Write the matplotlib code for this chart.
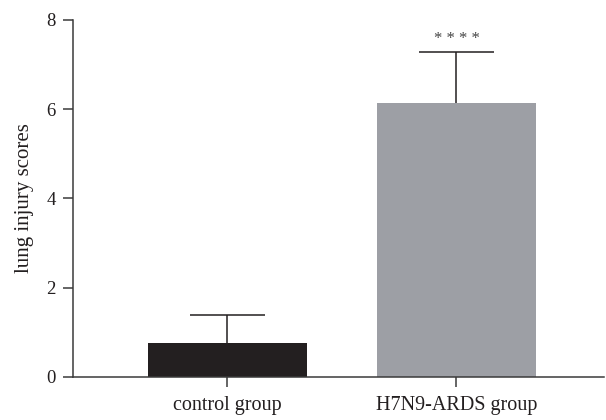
import matplotlib
matplotlib.use("Agg")
import matplotlib.pyplot as plt

groups = ["control group", "H7N9-ARDS group"]
means = [0.77, 6.15]
sd_upper = [0.61, 1.14]
bar_colors = ["#231f20", "#9d9fa5"]
y_ticks = [0, 2, 4, 6, 8]
significance = "* * * *"

plt.rcParams["font.family"] = ["Liberation Serif", "DejaVu Serif"]

fig = plt.figure(figsize=(6.06, 4.2), dpi=100)
ax = fig.add_axes([0.1205, 0.1024, 0.8762, 0.8500])

x = list(range(len(groups)))
ax.bar(x, means, width=0.694, color=bar_colors, zorder=2)

# one-sided (upper) error bars with a cap on top only
cap_half = 0.164
tops = [m + s for m, s in zip(means, sd_upper)]
ax.vlines(x, means, tops, colors="#231f20", linewidth=1.1, zorder=3)
ax.hlines(tops, [xi - cap_half for xi in x], [xi + cap_half for xi in x],
          colors="#231f20", linewidth=1.1, zorder=3)

ax.text(x[1], tops[1] + 0.28, significance, ha="center", va="center",
        fontsize=12, color="#444444")

ax.set_xlim(-0.674, 1.644)
ax.set_ylim(0, 8)
ax.set_yticks(y_ticks)
ax.set_xticks(x)
ax.set_xticklabels(groups, fontsize=14.5)
ax.set_ylabel("lung injury scores", fontsize=15, color="#231f20", labelpad=9)

for side in ("top", "right"):
    ax.spines[side].set_visible(False)
for side in ("left", "bottom"):
    ax.spines[side].set_color("#3a3a3a")
    ax.spines[side].set_linewidth(1.1)

ax.tick_params(axis="both", direction="out", length=7.5, width=1.1, color="#3a3a3a",
               labelcolor="#231f20", pad=5)
ax.tick_params(axis="y", labelsize=13.5)
ax.tick_params(axis="x", pad=6)

fig.savefig("out.png", dpi=100)
